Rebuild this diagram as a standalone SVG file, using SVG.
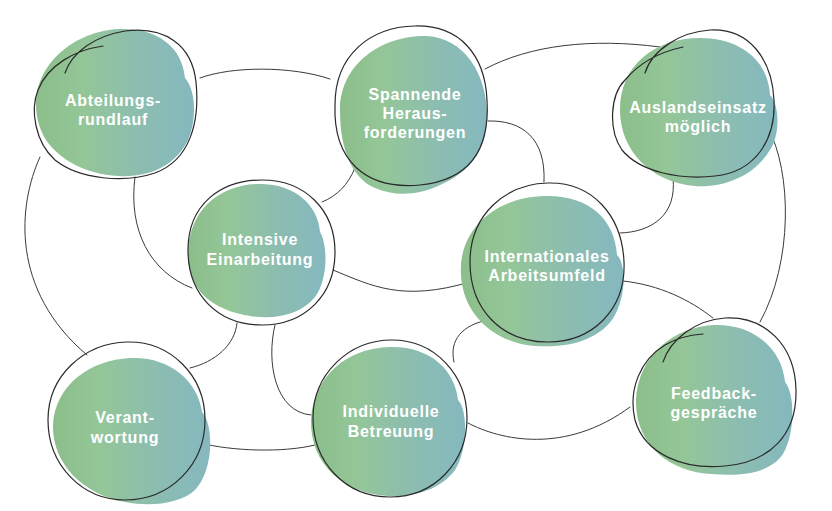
<svg xmlns="http://www.w3.org/2000/svg" width="832" height="511" viewBox="0 0 832 511">
<style>
.blob{fill:url(#g)}
.ring{fill:none;stroke:#2a2a2a;stroke-width:1.2;stroke-linecap:round}
.halo{fill:none;stroke:#fff;stroke-width:3}
.con{fill:none;stroke:#3a3a3a;stroke-width:1;stroke-linecap:round}
.lbl{font-family:"Liberation Sans",Arial,sans-serif;font-weight:bold;font-size:16px;letter-spacing:0.75px;fill:#fff;text-anchor:middle}
</style>
<defs>
<linearGradient id="g" x1="0" y1="0" x2="1" y2="0">
<stop offset="0" stop-color="#8bbe8a"/>
<stop offset="0.3" stop-color="#94c698"/>
<stop offset="0.65" stop-color="#8cbdb0"/>
<stop offset="1" stop-color="#85b8bf"/>
</linearGradient>
</defs>
<rect width="832" height="511" fill="#fff"/>
<g id="connectors">
<path class="con" d="M40,157 C18,205 10,290 87,355"/>
<path class="con" d="M135,177 C128,230 150,272 192,288"/>
<path class="con" d="M237,323 C235,345 215,362 190,368"/>
<path class="con" d="M275,325 C266,362 275,412 311,415"/>
<path class="con" d="M200,78 C232,66 292,66 330,79"/>
<path class="con" d="M485,69 C530,45 592,38 660,47"/>
<path class="con" d="M488,121 C522,120 546,138 544,182"/>
<path class="con" d="M355,168 C348,185 337,196 322,202"/>
<path class="con" d="M333,270 C372,286 402,302 470,282"/>
<path class="con" d="M673,178 C677,215 652,232 620,233"/>
<path class="con" d="M768,128 C792,172 793,262 760,322"/>
<path class="con" d="M623,281 C660,285 690,300 713,318"/>
<path class="con" d="M488,320 C462,325 449,340 454,362"/>
<path class="con" d="M468,423 C500,440 565,455 630,407"/>
<path class="con" d="M200,443 C232,451 282,453 315,445"/>
</g>
<g id="node-abteilungsrundlauf">
<path class="blob" d="M36,105 C36,60 80,28 125,29 C160,30 182,48 185,78 C196,90 197,120 188,140 C176,165 150,178 118,176 C85,174 60,160 46,140 C40,130 36,118 36,105 Z"/>
<path class="ring" d="M65,73 C72,52 95,36 125,31 C165,26 192,45 196,82 C200,122 190,160 155,173 C125,183 80,180 55,160 C35,142 30,110 38,90 C48,65 75,50 103,46"/>
<text class="lbl" x="113" y="106">Abteilungs-</text>
<text class="lbl" x="113" y="125">rundlauf</text>
</g>
<g id="node-spannende">
<path class="blob" d="M340,110 C340,65 380,36 425,36 C465,37 487,75 487,115 C487,150 470,172 440,185 C420,195 395,197 375,188 C352,178 340,150 340,110 Z"/>
<path class="ring" d="M335,105 C335,55 370,27 415,26 C460,25 485,55 487,100 C490,150 470,180 420,185 C365,190 333,160 335,105 Z"/>
<text class="lbl" x="415" y="100">Spannende</text>
<text class="lbl" x="415" y="119">Heraus-</text>
<text class="lbl" x="415" y="138">forderungen</text>
</g>
<g id="node-auslandseinsatz">
<path class="blob" d="M620,110 C620,65 655,38 700,38 C740,38 768,60 770,95 C780,105 780,135 770,150 C755,175 725,188 695,186 C650,182 620,150 620,110 Z"/>
<path class="ring" d="M645,73 C652,50 680,32 710,30 C750,28 772,60 774,100 C776,140 755,172 715,176 C680,180 640,172 622,150 C608,130 610,95 625,80 C640,62 660,52 683,47"/>
<text class="lbl" x="698" y="113">Auslandseinsatz</text>
<text class="lbl" x="698" y="132">möglich</text>
</g>
<g id="node-intensive">
<path class="blob" d="M188,255 C188,210 220,184 260,184 C295,184 318,205 320,232 C328,245 328,280 315,297 C300,315 275,320 250,316 C212,310 188,290 188,255 Z"/>
<path class="ring" d="M188,250 C188,205 220,180 262,180 C305,180 335,210 335,252 C335,295 305,325 262,325 C218,325 188,295 188,250 Z"/>
<text class="lbl" x="260" y="245">Intensive</text>
<text class="lbl" x="260" y="265">Einarbeitung</text>
</g>
<g id="node-internationales">
<path class="blob" d="M461,275 C458,230 495,197 545,196 C590,195 615,220 617,255 C627,265 626,300 612,320 C595,342 565,348 535,346 C495,343 463,315 461,275 Z"/>
<path class="ring" d="M470,262 C470,215 505,184 548,183 C592,182 622,215 624,262 C626,310 592,342 548,342 C502,342 470,310 470,262 Z"/>
<text class="lbl" x="547" y="262">Internationales</text>
<text class="lbl" x="547" y="281">Arbeitsumfeld</text>
</g>
<g id="node-verantwortung">
<path class="blob" d="M53,425 C55,385 90,360 130,358 C168,356 198,380 202,412 C214,425 214,470 195,490 C180,504 150,507 125,502 C85,495 52,465 53,425 Z"/>
<path class="ring" d="M48,420 C48,375 85,343 127,342 C170,341 205,375 205,420 C205,465 170,500 125,500 C82,500 48,465 48,420 Z"/>
<text class="lbl" x="125" y="423">Verant-</text>
<text class="lbl" x="125" y="443">wortung</text>
</g>
<g id="node-individuelle">
<path class="blob" d="M311,420 C313,378 345,348 390,347 C430,346 455,370 458,400 C468,410 468,450 455,470 C440,490 415,497 388,496 C345,494 310,465 311,420 Z"/>
<path class="ring" d="M313,418 C313,375 348,340 392,340 C435,340 467,375 467,418 C467,462 435,497 390,497 C345,497 313,462 313,418 Z"/>
<text class="lbl" x="391" y="417">Individuelle</text>
<text class="lbl" x="391" y="437">Betreuung</text>
</g>
<g id="node-feedback">
<path class="blob" d="M636,400 C638,355 675,326 715,325 C755,324 782,350 785,382 C796,395 795,440 780,458 C765,474 740,476 712,474 C670,472 635,445 636,400 Z"/>
<path class="ring" d="M663,362 C670,340 695,320 725,318 C765,316 795,345 796,390 C797,435 770,462 725,466 C685,470 645,455 635,420 C628,390 640,360 665,345 C678,337 690,335 703,334"/>
<text class="lbl" x="714" y="399">Feedback-</text>
<text class="lbl" x="714" y="418">gespräche</text>
</g>
</svg>
